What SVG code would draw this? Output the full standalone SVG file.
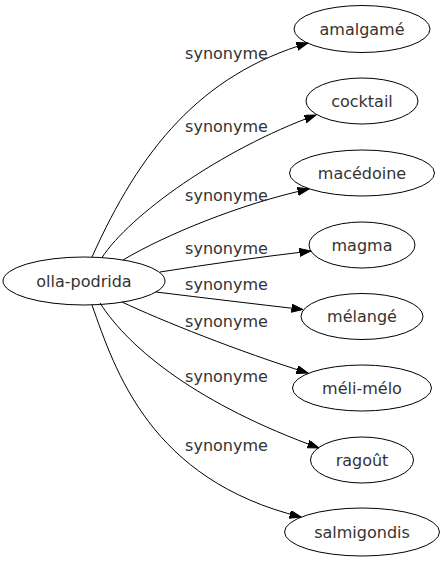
<svg xmlns="http://www.w3.org/2000/svg" width="445" height="563" viewBox="0 0 445 563">
<defs>
<style>
.node ellipse{fill:none;stroke:#000;stroke-width:1}
.node text{font-family:"DejaVu Sans",sans-serif;font-size:16px;fill:#333;text-anchor:middle}
.edge path{fill:none;stroke:#000;stroke-width:1;marker-end:url(#arr)}
.lbl{font-family:"DejaVu Sans",sans-serif;font-size:16px;fill:#333;text-anchor:middle}
</style>
<marker id="arr" markerUnits="userSpaceOnUse" markerWidth="12" markerHeight="9" refX="11.5" refY="4" orient="auto">
<path d="M0,0 L11.5,4 L0,8 z" fill="#000" stroke="#000" stroke-width="1"/>
</marker>
</defs>
<rect width="445" height="563" fill="#fff"/>
<g id="edges" class="edge">
<path d="M92,257 C140,150 200,75 308,43"/>
<path d="M102,257.5 C130,215 220,150 316,115"/>
<path d="M123,260 C165,235 240,204 309,189"/>
<path d="M160,272 C210,264 260,257 311,251"/>
<path d="M156,292 C205,298 255,304 303,309.5"/>
<path d="M122,302 C160,320 240,352 308,373"/>
<path d="M100,303 C130,350 200,405 319,448"/>
<path d="M92,305 C115,370 150,480 301,517"/>
</g>
<g id="labels">
<text class="lbl" x="226.5" y="59">synonyme</text>
<text class="lbl" x="226.5" y="132">synonyme</text>
<text class="lbl" x="226.5" y="201">synonyme</text>
<text class="lbl" x="226.5" y="254">synonyme</text>
<text class="lbl" x="226.5" y="290">synonyme</text>
<text class="lbl" x="226.5" y="327">synonyme</text>
<text class="lbl" x="226.5" y="382">synonyme</text>
<text class="lbl" x="226.5" y="451">synonyme</text>
</g>
<g id="node-olla-podrida" class="node"><ellipse cx="84" cy="281" rx="81" ry="24"/><text x="84" y="286.5">olla-podrida</text></g>
<g id="node-amalgame" class="node"><ellipse cx="362" cy="29" rx="68" ry="23.5"/><text x="362" y="34.5">amalgamé</text></g>
<g id="node-cocktail" class="node"><ellipse cx="362" cy="101" rx="56" ry="23"/><text x="362" y="106.5">cocktail</text></g>
<g id="node-macedoine" class="node"><ellipse cx="362" cy="173" rx="72.5" ry="23"/><text x="362" y="178.5">macédoine</text></g>
<g id="node-magma" class="node"><ellipse cx="362" cy="245" rx="53" ry="23"/><text x="362" y="250.5">magma</text></g>
<g id="node-melange" class="node"><ellipse cx="362" cy="316.5" rx="61" ry="23"/><text x="362" y="322">mélangé</text></g>
<g id="node-meli-melo" class="node"><ellipse cx="362" cy="388" rx="69.5" ry="23"/><text x="362" y="393.5">méli-mélo</text></g>
<g id="node-ragout" class="node"><ellipse cx="362" cy="460" rx="51.5" ry="23"/><text x="362" y="465.5">ragoût</text></g>
<g id="node-salmigondis" class="node"><ellipse cx="362" cy="532" rx="77.5" ry="24"/><text x="362" y="537.5">salmigondis</text></g>
</svg>
